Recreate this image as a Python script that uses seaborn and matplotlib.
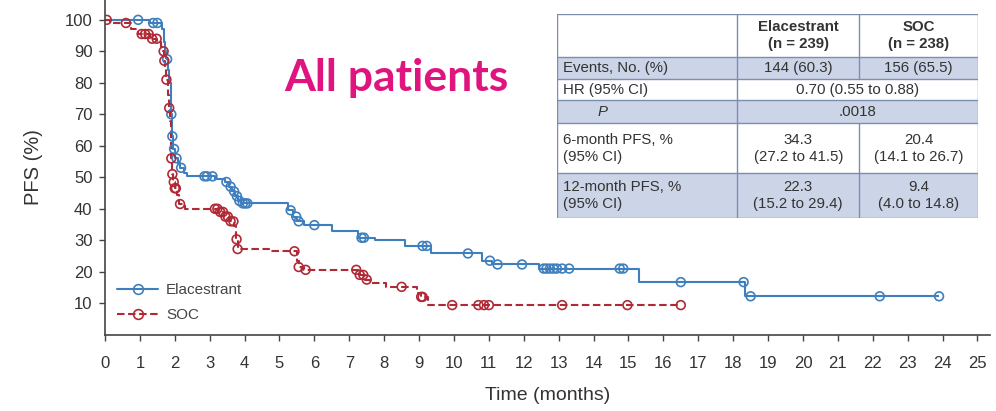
import numpy as np
import pandas as pd
import matplotlib
matplotlib.use("Agg")
import matplotlib.pyplot as plt
import seaborn as sns
from matplotlib.lines import Line2D
from matplotlib.patches import Rectangle

# ---- Kaplan-Meier data (time in months, PFS in %) ----
# Elacestrant: times at which PFS steps down and the PFS level after each step
ela_event_t = [1.30, 1.62, 1.68, 1.72, 1.76, 1.80, 1.84, 1.88, 1.90, 1.92, 1.95,
               2.00, 2.08, 2.15, 2.25, 2.35, 3.15, 3.45, 3.55, 3.65, 3.72, 3.80,
               3.90, 5.25, 5.40, 5.50, 5.70, 6.50, 7.25, 7.75, 8.60, 9.35, 10.80,
               11.10, 12.45, 15.30, 18.35]
ela_event_s = [99.0, 97.0, 93.0, 90.0, 87.5, 84.0, 80.0, 76.0, 70.0, 63.0, 59.0,
               56.0, 54.5, 53.0, 51.5, 50.3, 49.5, 48.5, 47.0, 45.5, 44.0, 42.5,
               41.7, 39.5, 37.5, 36.0, 34.8, 33.0, 30.8, 30.2, 28.2, 25.8, 23.5,
               22.3, 21.0, 16.7, 12.2]
ela_censor_t = [0.95, 1.38, 1.50, 1.78, 1.90, 1.93, 1.98, 2.05, 2.18, 2.85, 2.92,
                3.08, 3.48, 3.60, 3.70, 3.78, 3.85, 3.95, 4.02, 4.08, 5.32, 5.48,
                5.55, 6.00, 7.35, 7.42, 9.10, 9.22, 10.40, 11.03, 11.25, 11.95,
                12.57, 12.65, 12.75, 12.85, 12.95, 13.10, 13.30, 14.75, 14.85,
                16.50, 18.30, 18.50, 22.20, 23.90]
ela_end_t = 23.9

# Standard of care
soc_event_t = [0.15, 0.75, 0.95, 1.30, 1.50, 1.60, 1.66, 1.70, 1.73, 1.76, 1.80,
               1.83, 1.86, 1.88, 1.90, 1.92, 1.96, 2.00, 2.05, 2.12, 2.30, 3.25,
               3.40, 3.55, 3.70, 3.75, 3.80, 4.70, 5.50, 5.55, 5.70, 7.30, 7.45,
               7.60, 8.05, 8.95, 9.05, 9.25]
soc_event_s = [99.0, 97.0, 95.5, 94.0, 93.0, 91.5, 90.0, 87.0, 84.5, 81.0, 76.0,
               72.0, 68.0, 63.0, 56.0, 51.0, 48.5, 46.5, 44.5, 41.5, 40.0, 39.0,
               37.5, 36.0, 34.5, 30.3, 27.2, 26.5, 23.5, 21.5, 20.6, 19.0, 17.5,
               16.3, 15.2, 13.2, 12.0, 9.4]
soc_censor_t = [0.05, 0.60, 1.05, 1.15, 1.25, 1.35, 1.48, 1.68, 1.70, 1.76, 1.84,
                1.90, 1.93, 1.97, 2.00, 2.03, 2.15, 3.15, 3.22, 3.30, 3.38, 3.45,
                3.52, 3.60, 3.68, 3.77, 3.80, 5.43, 5.55, 5.75, 7.20, 7.30, 7.40,
                7.50, 8.50, 9.06, 9.10, 9.95, 10.70, 10.86, 11.00, 13.10, 14.97,
                16.50]
soc_end_t = 16.5

arms = ["Elacestrant", "SOC"]
arm_colors = {"Elacestrant": "#3f7fbd", "SOC": "#b02a36"}

x_ticks = list(range(0, 26))
y_ticks = list(range(10, 101, 10))

# Summary table
table_header = ["", "Elacestrant\n(n = 239)", "SOC\n(n = 238)"]
table_rows = [
    ["Events, No. (%)", "144 (60.3)", "156 (65.5)"],
    ["HR (95% CI)", "0.70 (0.55 to 0.88)", None],
    ["P", ".0018", None],
    ["6-month PFS, %\n(95% CI)", "34.3\n(27.2 to 41.5)", "20.4\n(14.1 to 26.7)"],
    ["12-month PFS, %\n(95% CI)", "22.3\n(15.2 to 29.4)", "9.4\n(4.0 to 14.8)"],
]


def km_frame(event_t, event_s, end_t, arm):
    t = [0.0] + list(event_t) + [end_t]
    s = [100.0] + list(event_s) + [event_s[-1]]
    return pd.DataFrame({"Time": t, "PFS": s, "Arm": arm})


def censor_frame(event_t, event_s, censor_t, arm):
    et = np.asarray(event_t)
    es = np.asarray(event_s)
    ct = np.asarray(censor_t)
    idx = np.searchsorted(et, ct, side="right") - 1
    s = np.where(idx >= 0, es[np.clip(idx, 0, None)], 100.0)
    return pd.DataFrame({"Time": ct, "PFS": s, "Arm": arm})


curves = pd.concat([
    km_frame(ela_event_t, ela_event_s, ela_end_t, "Elacestrant"),
    km_frame(soc_event_t, soc_event_s, soc_end_t, "SOC"),
], ignore_index=True)
censors = pd.concat([
    censor_frame(ela_event_t, ela_event_s, ela_censor_t, "Elacestrant"),
    censor_frame(soc_event_t, soc_event_s, soc_censor_t, "SOC"),
], ignore_index=True)

sns.set_theme(style="white")
plt.rcParams["font.family"] = ["Liberation Sans", "DejaVu Sans"]

W, H = 996, 411
fig = plt.figure(figsize=(W / 100, H / 100), dpi=100)
ax = fig.add_axes([105 / W, 1 - 334.7 / H, (990 - 105) / W, 334.7 / H])

dash = (3.6, 1.7)
sns.lineplot(data=curves, x="Time", y="PFS", hue="Arm", style="Arm",
             palette=arm_colors, dashes={"Elacestrant": (1, 0), "SOC": dash},
             drawstyle="steps-post", estimator=None, sort=False, linewidth=1.5,
             legend=False, ax=ax)

for arm in arms:
    sub = censors[censors["Arm"] == arm]
    sns.scatterplot(data=sub, x="Time", y="PFS", marker="o", s=40,
                    facecolor="none", edgecolor=arm_colors[arm], linewidth=1.2,
                    legend=False, ax=ax, zorder=3)

ax.set_xlim(0, 25.36)
ax.set_ylim(0, 106.3)
ax.set_xticks(x_ticks)
ax.set_yticks(y_ticks)
ax.set_xticklabels([str(v) for v in x_ticks])
ax.set_yticklabels([str(v) for v in y_ticks])
for side in ["top", "right"]:
    ax.spines[side].set_visible(False)
for side in ["left", "bottom"]:
    ax.spines[side].set_color("#444444")
    ax.spines[side].set_linewidth(1.2)
ax.tick_params(axis="both", which="both", direction="out", length=4, width=1.0,
               color="#444444", labelcolor="#333333", labelsize=12,
               left=True, bottom=True)
ax.tick_params(axis="x", pad=11)
ax.tick_params(axis="y", pad=5)
ax.set_xlabel("Time (months)", fontsize=14, color="#333333", labelpad=12)
ax.set_ylabel("PFS (%)", fontsize=14.5, color="#333333", labelpad=16)
ax.grid(False)

handles = [
    Line2D([], [], color=arm_colors["Elacestrant"], lw=1.5, marker="o", ms=7,
           mfc="none", mew=1.2),
    Line2D([], [], color=arm_colors["SOC"], lw=1.5, ls=(0, dash), marker="o",
           ms=7, mfc="none", mew=1.2),
]
leg = ax.legend(handles, arms, loc="lower left", bbox_to_anchor=(0.0, 0.0),
                frameon=False, fontsize=11, handlelength=2.7, handletextpad=0.5,
                labelspacing=0.75, borderaxespad=0.4)
for txt in leg.get_texts():
    txt.set_color("#444444")

# Title inside the plot area
fig.text(396 / W, 1 - 78 / H, "All patients", ha="center", va="center",
         fontsize=32, fontweight="bold", color="#e0147f", family=["Lato", "DejaVu Sans"])

# Summary table drawn in pixel coordinates
tx0, tx1, ty0, ty1 = 556.7, 977.7, 14.0, 218.3
tax = fig.add_axes([tx0 / W, 1 - ty1 / H, (tx1 - tx0) / W, (ty1 - ty0) / H])
tax.set_xlim(tx0, tx1)
tax.set_ylim(ty1, ty0)
tax.axis("off")

col_x = [556.7, 737.3, 859.3, 977.7]
row_y = [14.0, 57.3, 79.3, 100.0, 123.3, 173.3, 218.3]
shade = "#ccd5e7"
border = "#7d8db0"
text_c = "#333333"
fs = 10.8

for r in range(6):
    fc = shade if r in (1, 3, 5) else "white"
    tax.add_patch(Rectangle((col_x[0], row_y[r]), col_x[3] - col_x[0],
                            row_y[r + 1] - row_y[r], facecolor=fc, edgecolor="none"))
for y in row_y:
    tax.plot([col_x[0], col_x[3]], [y, y], color=border, lw=1.0)
tax.plot([col_x[0], col_x[0]], [row_y[0], row_y[-1]], color=border, lw=1.0)
tax.plot([col_x[3], col_x[3]], [row_y[0], row_y[-1]], color=border, lw=1.0)
tax.plot([col_x[1], col_x[1]], [row_y[0], row_y[-1]], color=border, lw=1.0)
tax.plot([col_x[2], col_x[2]], [row_y[0], row_y[2]], color=border, lw=1.0)
tax.plot([col_x[2], col_x[2]], [row_y[4], row_y[6]], color=border, lw=1.0)

# header
for c in (1, 2):
    tax.text((col_x[c] + col_x[c + 1]) / 2, (row_y[0] + row_y[1]) / 2, table_header[c],
             ha="center", va="center", fontsize=fs, fontweight="bold", color=text_c,
             linespacing=1.3)
# body
for i, row in enumerate(table_rows):
    r = i + 1
    yc = (row_y[r] + row_y[r + 1]) / 2
    if row[0] == "P":
        tax.text(598, yc, row[0], ha="left", va="center", fontsize=fs,
                 style="italic", color=text_c)
    else:
        tax.text(563, yc, row[0], ha="left", va="center", fontsize=fs, color=text_c,
                 linespacing=1.3)
    if row[2] is None:
        tax.text((col_x[1] + col_x[3]) / 2, yc, row[1], ha="center", va="center",
                 fontsize=fs, color=text_c)
    else:
        for c in (1, 2):
            tax.text((col_x[c] + col_x[c + 1]) / 2, yc, row[c], ha="center",
                     va="center", fontsize=fs, color=text_c, linespacing=1.3)

fig.savefig("out.png", dpi=100)
